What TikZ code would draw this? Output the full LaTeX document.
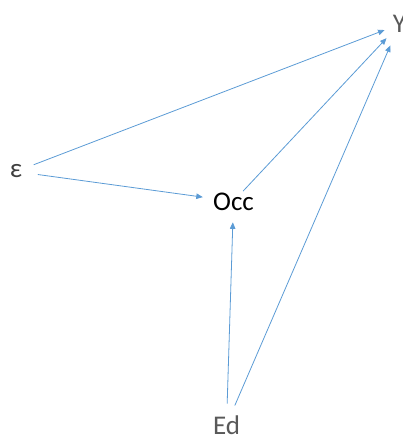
\documentclass[tikz,border=0pt]{standalone}
\usepackage{fontspec}
\setmainfont{Carlito}
\usetikzlibrary{arrows.meta}
\definecolor{conn}{HTML}{5B9BD5}
\definecolor{lab}{HTML}{595959}
\definecolor{labdark}{HTML}{3F3F3F}
\tikzset{
  lbl/.style={inner sep=0pt, anchor=base, font=\fontsize{27}{30}\selectfont},
  conn/.style={draw=conn, line width=0.8pt, -{Triangle[length=6.5pt,width=5.5pt]}}
}
\begin{document}
\begin{tikzpicture}[x=1pt,y=-1pt]
\useasboundingbox (0,0) rectangle (403,438);
\clip (0,0) rectangle (403,438);
\node[lbl, text=lab] (Y) at (399.5,33) {Y};
\node[lbl, text=labdark] (eps) at (16,178) {ε};
\node[lbl, text=black] (occ) at (233.5,210) {Occ};
\node[lbl, text=lab] (ed) at (226.5,434) {Ed};
\draw[conn, shorten <=19pt, shorten >=16pt] (eps.center) -- (Y.center);
\draw[conn, shorten <=22pt, shorten >=31pt] (eps.center) -- (occ.center);
\draw[conn, shorten <=14pt, shorten >=19pt] (occ.center) -- (Y.center);
\draw[conn, shorten <=21pt, shorten >=21pt] (ed.center) -- (occ.center);
\draw[conn, shorten <=21pt, shorten >=23pt] (ed.center) -- (Y.center);
\end{tikzpicture}
\end{document}
